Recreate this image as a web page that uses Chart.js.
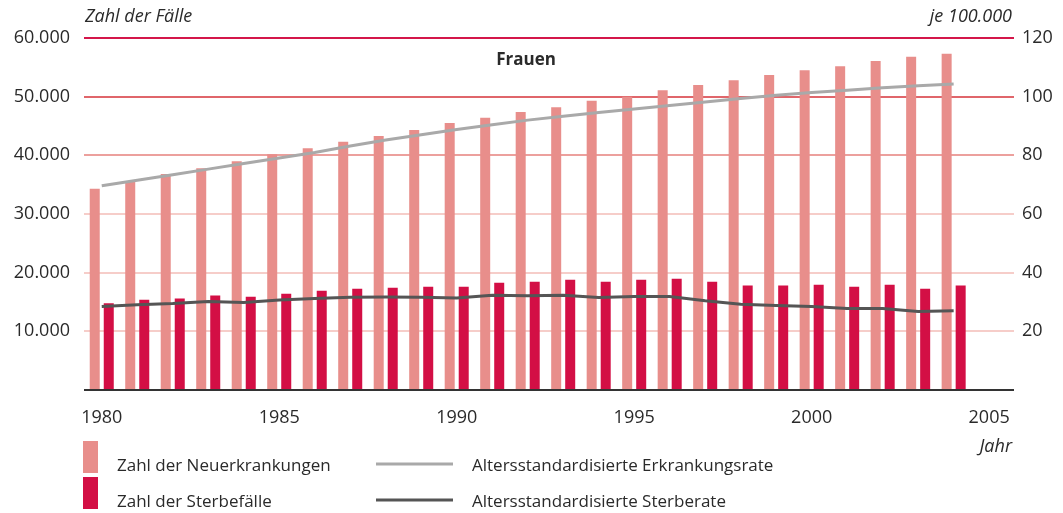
<!DOCTYPE html>
<html><head><meta charset="utf-8">
<script src="https://cdn.jsdelivr.net/npm/chart.js@4/dist/chart.umd.min.js"></script>
<style>html,body{margin:0;padding:0;background:#fff;} #wrap{width:1063px;height:513px;position:relative}</style>
</head><body><div id="wrap"><canvas id="c" width="1063" height="513"></canvas></div>
<script>
const years = [1980,1981,1982,1983,1984,1985,1986,1987,1988,1989,1990,1991,1992,1993,1994,1995,1996,1997,1998,1999,2000,2001,2002,2003,2004];
const neuerkrankungen = [34300,35600,36800,37800,39000,40200,41200,42300,43300,44300,45500,46400,47400,48200,49300,50000,51100,52000,52800,53700,54500,55200,56100,56800,57300];
const sterbefaelle = [14800,15400,15600,16100,15900,16400,16900,17250,17450,17600,17600,18300,18450,18800,18450,18800,18950,18450,17800,17800,17950,17600,17950,17250,17800];
const erkrankungsrate = [69.6,71.5,73.4,75.3,77.2,79.1,81.0,83.2,85.2,87.0,88.8,90.4,92.0,93.3,94.6,95.8,97.0,98.2,99.4,100.5,101.4,102.2,103.0,103.7,104.3];
const sterberate = [28.5,29.1,29.5,30.2,29.8,30.7,31.2,31.6,31.7,31.6,31.4,32.3,32.1,32.3,31.5,31.9,31.9,30.4,29.2,28.8,28.5,27.8,27.8,26.8,27.0];
const xTickYears = [1980,1985,1990,1995,2000,2005];
const leftTickValues = [0,10000,20000,30000,40000,50000,60000];
const rightTickValues = [0,20,40,60,80,100,120];
const labels = {
  title: 'Frauen',
  leftUnit: 'Zahl der Fälle',
  rightUnit: 'je 100.000',
  xUnit: 'Jahr',
  s1: 'Zahl der Neuerkrankungen',
  s2: 'Zahl der Sterbefälle',
  s3: 'Altersstandardisierte Erkrankungsrate',
  s4: 'Altersstandardisierte Sterberate'
};

const FONT = '"Open Sans", "DejaVu Sans", sans-serif';
const TXT = '#2a2a2a';

function fmtDE(v){ return String(v).replace(/\B(?=(\d{3})+(?!\d))/g, '.'); }

function gridColor(v){
  if (v === 0) return '#333333';
  if (v === 60000) return '#d4164a';
  if (v === 50000) return '#e0666b';
  if (v === 40000) return '#eca09d';
  return '#f6cdc9';
}

const textPlugin = {
  id: 'texts',
  afterDraw(chart){
    const ctx = chart.ctx;
    ctx.save();
    ctx.fillStyle = TXT;
    ctx.textBaseline = 'middle';
    ctx.font = 'italic 18px ' + FONT;
    ctx.textAlign = 'left';
    ctx.fillText(labels.leftUnit, 85, 17);
    ctx.textAlign = 'right';
    ctx.fillText(labels.rightUnit, 1012, 17);
    ctx.fillText(labels.xUnit, 1012, 447);
    ctx.font = 'bold 17px ' + FONT;
    ctx.textAlign = 'center';
    ctx.fillText(labels.title, 526, 60);
    const ds = chart.data.datasets;
    ctx.font = '17px ' + FONT;
    ctx.textAlign = 'left';
    const rows = [464, 500];
    ctx.fillStyle = ds[0].backgroundColor;
    ctx.fillRect(83, 441, 15, 32);
    ctx.fillStyle = ds[1].backgroundColor;
    ctx.fillRect(83, 477, 15, 32);
    ctx.fillStyle = TXT;
    ctx.fillText(ds[0].label, 117, rows[0]+2);
    ctx.fillText(ds[1].label, 117, rows[1]+2);
    [2,3].forEach((i, k) => {
      ctx.strokeStyle = ds[i].borderColor;
      ctx.lineWidth = 3;
      ctx.beginPath();
      ctx.moveTo(376, rows[k]);
      ctx.lineTo(453, rows[k]);
      ctx.stroke();
      ctx.fillStyle = TXT;
      ctx.fillText(ds[i].label, 472, rows[k]+2);
    });
    ctx.restore();
  }
};

new Chart(document.getElementById('c'), {
  data: {
    datasets: [
      { type: 'bar', label: labels.s1, data: years.map((y,i)=>({x:y, y:neuerkrankungen[i]})),
        backgroundColor: '#e88e8b', yAxisID: 'y', order: 2,
        categoryPercentage: 0.79, barPercentage: 0.714 },
      { type: 'bar', label: labels.s2, data: years.map((y,i)=>({x:y, y:sterbefaelle[i]})),
        backgroundColor: '#d30f45', yAxisID: 'y', order: 2,
        categoryPercentage: 0.79, barPercentage: 0.714 },
      { type: 'line', label: labels.s3, data: years.map((y,i)=>({x:y, y:erkrankungsrate[i]})),
        borderColor: '#a9a9a9', borderWidth: 3, pointRadius: 0, tension: 0, yAxisID: 'y2', order: 1 },
      { type: 'line', label: labels.s4, data: years.map((y,i)=>({x:y, y:sterberate[i]})),
        borderColor: '#555555', borderWidth: 3, pointRadius: 0, tension: 0, yAxisID: 'y2', order: 1 }
    ]
  },
  options: {
    responsive: false,
    animation: false,
    devicePixelRatio: 1,
    layout: { padding: { top: 38, left: 0, right: 0, bottom: 0 } },
    plugins: { legend: { display: false }, tooltip: { enabled: false }, title: { display: false } },
    scales: {
      x: {
        type: 'linear', min: 1979.5, max: 2005.7, offset: false,
        grid: { display: false, offset: false }, border: { display: false },
        afterBuildTicks(s){ s.ticks = xTickYears.map(v=>({value:v})); },
        afterFit(s){ s.height = 123; },
        ticks: { padding: 9, color: TXT, font: { family: FONT, size: 18 }, callback: v => String(v), maxRotation: 0, autoSkip: false }
      },
      y: {
        position: 'left', min: 0, max: 60000,
        afterBuildTicks(s){ s.ticks = leftTickValues.map(v=>({value:v})); },
        afterFit(s){ s.width = 84; },
        border: { display: false },
        grid: { drawTicks: false, color: c => gridColor(c.tick.value), lineWidth: 2 },
        ticks: { padding: 14, color: TXT, font: { family: FONT, size: 18 }, callback: v => v === 0 ? '' : fmtDE(v) }
      },
      y2: {
        position: 'right', min: 0, max: 120,
        afterBuildTicks(s){ s.ticks = rightTickValues.map(v=>({value:v})); },
        afterFit(s){ s.width = 49; },
        border: { display: false },
        grid: { display: false, drawTicks: false },
        ticks: { padding: 8, color: TXT, font: { family: FONT, size: 18 }, callback: v => v === 0 ? '' : String(v) }
      }
    }
  },
  plugins: [textPlugin]
});
</script>
</body></html>
